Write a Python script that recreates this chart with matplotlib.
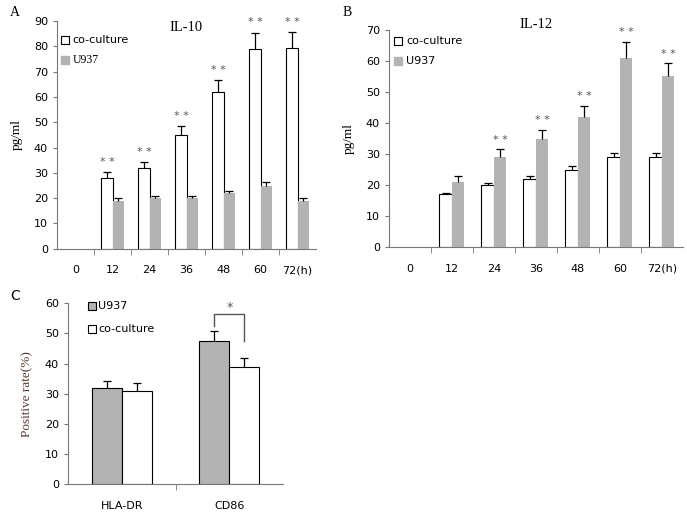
import matplotlib.pyplot as plt
import numpy as np

# time course, hours
hours = ["0", "12", "24", "36", "48", "60", "72(h)"]

# IL-10 (pg/ml)
il10_co = [0, 28, 32, 45, 62, 79, 79.3]
il10_co_err = [0, 2.2, 2.3, 3.4, 4.6, 6.4, 6.2]
il10_u937 = [0, 19, 20, 20, 22, 25, 19]
il10_u937_err = [0, 1.0, 1.0, 1.0, 1.0, 1.4, 1.0]
il10_stars = [False, True, True, True, True, True, True]

# IL-12 (pg/ml)
il12_co = [0, 17, 20, 22, 25, 29, 29]
il12_co_err = [0, 0.6, 0.6, 0.9, 1.3, 1.3, 1.3]
il12_u937 = [0, 21, 29, 35, 42, 61, 55]
il12_u937_err = [0, 2.0, 2.5, 2.8, 3.4, 5.0, 4.2]
il12_stars = [False, False, True, True, True, True, True]

# surface markers, positive rate (%)
markers = ["HLA-DR", "CD86"]
pos_u937 = [32, 47.5]
pos_u937_err = [2.3, 3.2]
pos_co = [31, 39]
pos_co_err = [2.4, 2.8]

GRAY = "#b3b3b3"
STAR = "#555555"
SERIF = "Liberation Serif"

plt.rcParams["font.family"] = "DejaVu Sans"
plt.rcParams["font.size"] = 7.5

fig = plt.figure(figsize=(6.87, 5.14), dpi=100)


def up_errors(ax, x, y, err):
    # one-sided error bars: stem from bar top plus a cap
    x = np.asarray(x, float)
    y = np.asarray(y, float)
    err = np.asarray(err, float)
    ax.vlines(x, y, y + err, color="black", linewidth=0.9, zorder=3)
    ax.plot(x, y + err, linestyle="none", marker="_", markersize=6,
            markeredgewidth=0.9, color="black", zorder=3)


def style_axes(ax):
    for s in ["top", "right"]:
        ax.spines[s].set_visible(False)
    for s in ["left", "bottom"]:
        ax.spines[s].set_color("#777777")
        ax.spines[s].set_linewidth(0.8)
    ax.tick_params(axis="y", length=3, color="#777777", labelsize=8)
    ax.tick_params(axis="x", which="major", length=0, labelsize=8, pad=12)
    ax.tick_params(axis="x", which="minor", length=4, color="#777777")


def time_panel(rect, co, co_err, u, u_err, stars, ymax, title, title_y, star_on_co):
    ax = fig.add_axes(rect)
    x = np.arange(len(hours))
    w = 0.3
    co = np.array(co, float)
    u = np.array(u, float)
    show = co > 0
    ax.bar(x[show] - w / 2, co[show], w, color="white", edgecolor="black", linewidth=0.8, zorder=2)
    ax.bar(x[show] + w / 2, u[show], w, color=GRAY, edgecolor=GRAY, linewidth=0, zorder=2)
    up_errors(ax, x[show] - w / 2, co[show], np.array(co_err)[show])
    up_errors(ax, x[show] + w / 2, u[show], np.array(u_err)[show])
    for i in range(len(hours)):
        if stars[i]:
            if star_on_co:
                xs, top = x[i] - w / 2, co[i] + co_err[i]
            else:
                xs, top = x[i] + w / 2, u[i] + u_err[i]
            ax.text(xs, top + ymax * 0.045, "* *", ha="center", va="center", color=STAR, fontsize=8)
    ax.set_xlim(-0.5, len(hours) - 0.5)
    ax.set_ylim(0, ymax)
    ax.set_yticks(np.arange(0, ymax + 1, 10))
    ax.set_xticks(x)
    ax.set_xticklabels(hours)
    ax.set_xticks(np.arange(0.5, len(hours) - 0.5, 1), minor=True)
    style_axes(ax)
    ax.set_ylabel("pg/ml", family=SERIF, fontsize=9.5, labelpad=8)
    ax.text(0.5, title_y, title, transform=ax.transAxes, ha="center", va="center",
            family=SERIF, fontsize=10.5, clip_on=False)
    return ax


axA = time_panel([0.083, 0.516, 0.377, 0.443], il10_co, il10_co_err, il10_u937, il10_u937_err,
                 il10_stars, 90, "IL-10", 0.97, True)
axA.scatter([0.03], [0.918], transform=axA.transAxes, marker="s", s=30, facecolor="white",
            edgecolor="black", linewidth=0.8, clip_on=False)
axA.scatter([0.03], [0.83], transform=axA.transAxes, marker="s", s=30, facecolor=GRAY,
            edgecolor=GRAY, clip_on=False)
axA.text(0.06, 0.918, "co-culture", transform=axA.transAxes, va="center", fontsize=8)
axA.text(0.06, 0.83, "U937", transform=axA.transAxes, va="center", fontsize=8.5, family=SERIF)

axB = time_panel([0.566, 0.519, 0.428, 0.423], il12_co, il12_co_err, il12_u937, il12_u937_err,
                 il12_stars, 70, "IL-12", 1.025, False)
axB.scatter([0.03], [0.95], transform=axB.transAxes, marker="s", s=30, facecolor="white",
            edgecolor="black", linewidth=0.8, clip_on=False)
axB.scatter([0.03], [0.855], transform=axB.transAxes, marker="s", s=30, facecolor=GRAY,
            edgecolor=GRAY, clip_on=False)
axB.text(0.06, 0.95, "co-culture", transform=axB.transAxes, va="center", fontsize=8)
axB.text(0.06, 0.855, "U937", transform=axB.transAxes, va="center", fontsize=8)

# panel C
axC = fig.add_axes([0.099, 0.058, 0.313, 0.352])
xc = np.arange(len(markers))
wc = 0.28
axC.bar(xc - wc / 2, pos_u937, wc, color=GRAY, edgecolor="black", linewidth=0.8, zorder=2)
axC.bar(xc + wc / 2, pos_co, wc, color="white", edgecolor="black", linewidth=0.8, zorder=2)
up_errors(axC, xc - wc / 2, pos_u937, pos_u937_err)
up_errors(axC, xc + wc / 2, pos_co, pos_co_err)
# significance bracket on CD86
bx0, bx1 = xc[1] - wc / 2, xc[1] + wc / 2
axC.plot([bx0, bx0, bx1, bx1], [52.5, 56.5, 56.5, 47.5], color="#555555", linewidth=1.0)
axC.text((bx0 + bx1) / 2, 58.5, "*", ha="center", va="center", color=STAR, fontsize=9)
axC.set_xlim(-0.5, 1.5)
axC.set_ylim(0, 60)
axC.set_yticks(np.arange(0, 61, 10))
axC.set_xticks(xc)
axC.set_xticklabels(markers)
axC.set_xticks([0.5], minor=True)
style_axes(axC)
axC.set_ylabel("Positive rate(%)", family=SERIF, fontsize=9.5, color="#5a3a2a", labelpad=8)
axC.scatter([0.11], [0.985], transform=axC.transAxes, marker="s", s=30, facecolor=GRAY,
            edgecolor="black", linewidth=0.8, clip_on=False)
axC.scatter([0.11], [0.855], transform=axC.transAxes, marker="s", s=30, facecolor="white",
            edgecolor="black", linewidth=0.8, clip_on=False)
axC.text(0.14, 0.985, "U937", transform=axC.transAxes, va="center", fontsize=8)
axC.text(0.14, 0.855, "co-culture", transform=axC.transAxes, va="center", fontsize=8)

# panel letters
fig.text(0.015, 0.975, "A", fontsize=10, family=SERIF, va="center")
fig.text(0.498, 0.975, "B", fontsize=10, family=SERIF, va="center")
fig.text(0.015, 0.425, "C", fontsize=10, va="center")

fig.savefig("out.png", dpi=100)
